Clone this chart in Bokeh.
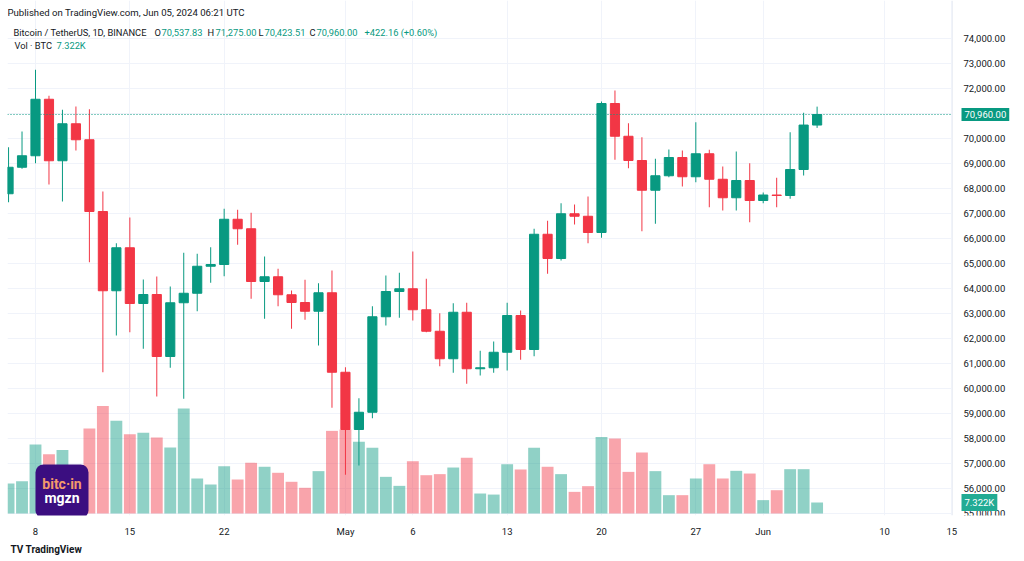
import pandas as pd
from bokeh.plotting import figure
from bokeh.models import (Range1d, FixedTicker, Span, Label, Title,
                          BoxAnnotation, ColumnDataSource)
from bokeh.embed import file_html
from bokeh.resources import INLINE

# ---------------- data (BTC/USDT 1D, Binance) ----------------
dates = pd.date_range("2024-04-06", "2024-06-05", freq="D")
opens = [67790, 68850, 69310, 71570, 69110, 70590, 69950, 67080, 63910, 65630,
         63400, 63760, 61280, 63430, 63810, 64890, 64960, 66770, 66390, 64280,
         64470, 63750, 63440, 63090, 63830, 60650, 58360, 59050, 62870, 63880,
         63990, 63150, 62290, 61190, 63050, 60790, 60830, 61450, 62920, 61560,
         66170, 65200, 66990, 66890, 66240, 71400, 70090, 69120, 67930, 68510,
         69240, 68470, 69390, 68370, 67630, 68320, 67520, 67740, 67720, 68760,
         70537.83]
highs = [69650, 70280, 72750, 71710, 71150, 71280, 71170, 67880, 65810, 66840,
         64360, 64480, 64080, 65430, 65390, 65650, 67190, 67150, 67030, 65280,
         64790, 63920, 64350, 64210, 64720, 60850, 59610, 63290, 64520, 64630,
         65480, 64390, 63010, 63410, 63430, 61510, 61880, 63430, 63120, 66390,
         66710, 67410, 67360, 67680, 71480, 71920, 70610, 70050, 69190, 69560,
         69520, 70650, 69550, 68880, 69480, 69010, 67840, 68430, 70250, 71030,
         71275.00]
lows = [67450, 68790, 69010, 68160, 67480, 69520, 65050, 60650, 62120, 62250,
        61590, 59680, 60830, 59590, 63090, 64230, 64490, 65750, 63590, 62790,
        63290, 62390, 62750, 61720, 59230, 56550, 56920, 58810, 62520, 62830,
        62720, 62250, 60890, 60630, 60190, 60520, 60630, 60720, 61150, 61290,
        64590, 65120, 66560, 65810, 66030, 69150, 68810, 66290, 66590, 68450,
        68080, 68250, 67250, 67120, 67120, 66650, 67410, 67250, 67590, 68520,
        70423.51]
closes = [68850, 69310, 71570, 69110, 70590, 69950, 67080, 63910, 65630, 63400,
          63760, 61280, 63430, 63810, 64890, 64960, 66770, 66390, 64280, 64470,
          63750, 63440, 63090, 63830, 60650, 58360, 59050, 62870, 63880, 63990,
          63150, 62290, 61190, 63050, 60790, 60830, 61450, 62920, 61560, 66170,
          65200, 66990, 66890, 66240, 71400, 70090, 69120, 67930, 68510, 69240,
          68470, 69390, 68370, 67630, 68320, 67520, 67740, 67720, 68760, 70537.84,
          70960.00]
volumes_k = [20.0, 21.5, 45.9, 39.5, 42.2, 28.0, 56.6, 71.5, 61.7, 52.8,
             53.7, 50.6, 43.9, 69.9, 23.3, 19.3, 31.5, 22.6, 33.7, 31.1,
             27.1, 21.1, 17.1, 28.2, 55.0, 55.9, 47.7, 43.7, 24.4, 18.4,
             34.8, 25.5, 26.2, 30.6, 37.1, 13.3, 12.6, 32.8, 29.3, 43.7,
             31.1, 26.2, 14.4, 18.2, 51.0, 49.9, 27.7, 40.6, 28.2, 12.2,
             12.2, 23.3, 32.8, 23.3, 28.4, 26.6, 8.9, 15.5, 29.5, 29.5,
             7.322]
price_ticks = list(range(55000, 74001, 1000))
date_ticks = ["2024-04-08", "2024-04-15", "2024-04-22", "2024-05-01", "2024-05-06",
              "2024-05-13", "2024-05-20", "2024-05-27", "2024-06-01", "2024-06-10",
              "2024-06-15"]
date_tick_labels = ["8", "15", "22", "May", "6", "13", "20", "27", "Jun", "10", "15"]
last_price = 70960.00

# ---------------- styling / layout helpers ----------------
UP = "#089981"
DOWN = "#F23645"
TXT = "#131722"
GRID = "#f0f3fa"
FONT = "Roboto"
DAY = 86400000.0
W, H = 1024, 561
FL, FT, FB = 7, 0, 515        # frame edges (page px); frame spans to the right edge
PANE_R = 952                  # right edge of the price pane (price scale to its right)
REF_T = pd.Timestamp("2024-04-08").value / 1e6
PX_DAY = 13.476


def xd(px):
    return REF_T + (px - 35) / PX_DAY * DAY


def yd(py):
    return 74000 - (py - 38) * 40.0


VOL_PX = 0.6656   # K BTC per pixel


def to_ms(s):
    return pd.Timestamp(s).value / 1e6


t = [d.value / 1e6 for d in dates]
up = [c >= o for o, c in zip(opens, closes)]
src = ColumnDataSource(dict(
    t=t, o=opens, h=highs, l=lows, c=closes, v=volumes_k,
    top=[max(o, c) for o, c in zip(opens, closes)],
    bot=[min(o, c) for o, c in zip(opens, closes)],
    col=[UP if u else DOWN for u in up],
))

p = figure(width=W, height=H, output_backend="svg", toolbar_location=None,
           x_axis_type="datetime", y_axis_location=None,
           x_range=Range1d(xd(FL), xd(W)), y_range=Range1d(yd(FB), yd(FT)),
           min_border_left=FL, min_border_right=0, min_border_top=FT,
           min_border_bottom=H - FB)
p.extra_y_ranges = {"vol": Range1d(-(FB - 513) * VOL_PX, 513 * VOL_PX)}
p.outline_line_color = None
p.background_fill_color = "white"
p.border_fill_color = "white"

# grids: vertical date grid from Grid, horizontal price grid limited to the pane
p.ygrid.visible = False
p.xgrid.ticker = FixedTicker(ticks=[to_ms(d) for d in date_ticks])
p.xgrid.grid_line_color = GRID
grid_src = ColumnDataSource(dict(y=price_ticks))
p.segment(x0=xd(FL), x1=xd(PANE_R), y0="y", y1="y", source=grid_src,
          line_color=GRID, line_width=1)
p.add_layout(Span(location=xd(PANE_R), dimension="height", line_color="#eceff5",
                  line_width=1))

# date axis
xa = p.xaxis[0]
xa.ticker = FixedTicker(ticks=[to_ms(d) for d in date_ticks])
xa.major_label_overrides = {to_ms(d): lab for d, lab in zip(date_ticks, date_tick_labels)}
xa.major_tick_line_color = None
xa.minor_tick_line_color = None
xa.axis_line_color = None
xa.major_label_standoff = 4
xa.major_label_text_font = FONT
xa.major_label_text_font_size = "9.5px"
xa.major_label_text_color = TXT

# price scale labels (right column), placed by the y scale
tick_src = ColumnDataSource(dict(y=price_ticks, s=[f"{v:,.2f}" for v in price_ticks]))
p.text(x=xd(963), y="y", text="s", source=tick_src, text_font_size="9.5px",
       text_color=TXT, text_baseline="middle", text_align="left",
       text_font={"value": FONT})

# volume
p.vbar(x="t", width=0.88 * DAY, top="v", bottom=0, source=src, y_range_name="vol",
       fill_color="col", fill_alpha=0.45, line_color=None)

# candles
p.segment(x0="t", y0="h", x1="t", y1="l", source=src, line_color="col", line_width=1)
p.vbar(x="t", width=0.68 * DAY, top="top", bottom="bot", source=src,
       fill_color="col", line_color="col", line_width=1)

# last price dotted line (pane only)
lp_src = ColumnDataSource(dict(y=[last_price]))
p.segment(x0=xd(FL), x1=xd(PANE_R), y0="y", y1="y", source=lp_src, line_color=UP,
          line_dash="1 2", line_width=1)

# value badges on the price scale
p.add_layout(Label(x=xd(961), y=last_price, text=f"{last_price:,.2f}", text_color="white",
                   text_font=FONT, text_font_size="9.5px", text_baseline="middle",
                   text_align="left", background_fill_color=UP, padding=3))
p.add_layout(Label(x=xd(961), y=volumes_k[-1], y_range_name="vol",
                   text=f"{volumes_k[-1]:.3f}K", text_color="white",
                   text_font=FONT, text_font_size="9.5px", text_baseline="middle",
                   text_align="left", background_fill_color="#22ab94", padding=3))


# header texts
def lab(px, py, text, color=TXT, size="9.3px", style="normal"):
    p.add_layout(Label(x=xd(px), y=yd(py), text=text, text_color=color, text_font=FONT,
                       text_font_size=size, text_baseline="middle", text_align="left",
                       text_font_style=style))


lab(7, 11.5, "Published on TradingView.com, Jun 05, 2024 06:21 UTC", size="9.6px")
lab(13, 31.5, "Bitcoin / TetherUS, 1D, BINANCE")
o, h_, l_, c = opens[-1], highs[-1], lows[-1], closes[-1]
chg = c - closes[-2]
segs = [(154, "O", TXT), (161, f"{o:,.2f}", UP), (207, "H", TXT), (215, f"{h_:,.2f}", UP),
        (258, "L", TXT), (264, f"{l_:,.2f}", UP), (309, "C", TXT), (316, f"{c:,.2f}", UP),
        (364, f"+{chg:,.2f} (+{chg / closes[-2] * 100:.2f}%)", UP)]
for px, txt, col in segs:
    lab(px, 31.5, txt, col)
lab(14, 44.5, "Vol · BTC")
lab(56, 44.5, f"{volumes_k[-1]:.3f}K", UP)

# watermark logo
p.add_layout(BoxAnnotation(left=xd(35), right=xd(88), top=yd(464), bottom=yd(518),
                           fill_color="#3b0e80", fill_alpha=1, line_color=None,
                           border_radius=8))
p.add_layout(Label(x=xd(61.5), y=yd(483), text="bitc·in", text_color="#f29a6b",
                   text_font=FONT, text_font_size="14px", text_font_style="bold",
                   text_align="center", text_baseline="middle"))
p.add_layout(Label(x=xd(61.5), y=yd(497), text="mgzn", text_color="white",
                   text_font=FONT, text_font_size="14px", text_font_style="bold",
                   text_align="center", text_baseline="middle"))

# footer
p.add_layout(Title(text="TV TradingView", align="left", offset=3, text_font=FONT,
                   text_font_size="10px", text_font_style="bold", text_color=TXT,
                   standoff=4), "below")

open("out.html", "w").write(file_html(p, INLINE))
